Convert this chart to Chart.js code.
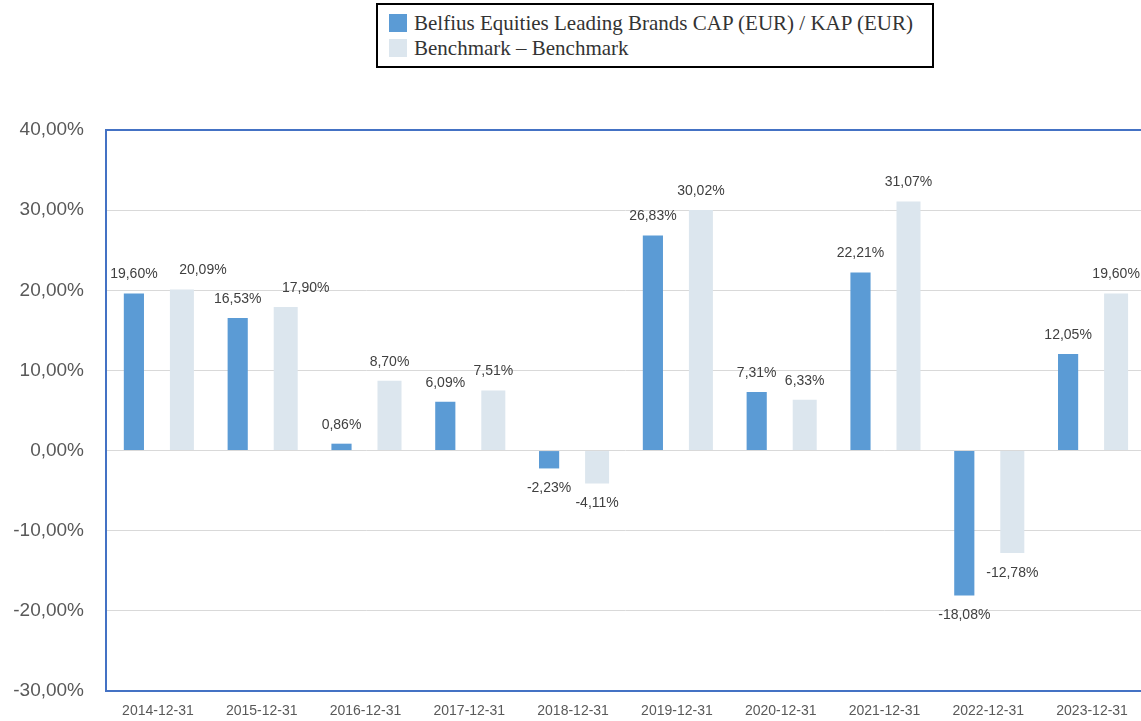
<!DOCTYPE html>
<html>
<head>
<meta charset="utf-8">
<script src="https://cdn.jsdelivr.net/npm/chart.js@4.4.0/dist/chart.umd.min.js"></script>
<style>
    body { margin: 0; background: #fff; width: 1141px; height: 721px; overflow: hidden; position: relative; }
    #wrap { position: absolute; left: 0; top: 0; width: 1146px; height: 721px; }
    #legend {
        position: absolute; left: 376px; top: 3px; width: 554px; height: 61px;
        border: 2px solid #000; background: #fff;
        font-family: "Liberation Serif", "Times New Roman", serif; font-size: 21px; color: #333;
    }
    .item { position: absolute; left: 11px; height: 24px; line-height: 24px; white-space: nowrap; }
    .item span.sw { position: absolute; left: 0; top: 3px; width: 18px; height: 18px; }
    .item span.tx { position: absolute; left: 25px; top: 0; }
</style>
</head>
<body>
<div id="legend">
    <div class="item" style="top:6px"><span class="sw" style="background:#5b9bd5"></span><span class="tx">Belfius Equities Leading Brands CAP (EUR) / KAP (EUR)</span></div>
    <div class="item" style="top:31px"><span class="sw" style="background:#dce6ee"></span><span class="tx">Benchmark – Benchmark</span></div>
</div>
<div id="wrap"><canvas id="chart" width="1146" height="721"></canvas></div>
<script>
// Data
const years = ['2014-12-31', '2015-12-31', '2016-12-31', '2017-12-31', '2018-12-31',
               '2019-12-31', '2020-12-31', '2021-12-31', '2022-12-31', '2023-12-31'];
const fundReturns = [19.60, 16.53, 0.86, 6.09, -2.23, 26.83, 7.31, 22.21, -18.08, 12.05];
const benchReturns = [20.09, 17.90, 8.70, 7.51, -4.11, 30.02, 6.33, 31.07, -12.78, 19.60];
const yTicks = [-30, -20, -10, 0, 10, 20, 30, 40];

// geser label yang bertabrakan (dataset -> index -> px)
const labelShiftX = { 1: { 0: 21, 1: 20 } };

const fmtPct = v => v.toFixed(2).replace('.', ',') + '%';

// Plugin label nilai di atas/bawah batang
const valueLabels = {
    id: 'valueLabels',
    afterDatasetsDraw(chart) {
        const ctx = chart.ctx;
        ctx.save();
        ctx.font = '14px "Liberation Sans", Arial, sans-serif';
        ctx.fillStyle = '#404040';
        ctx.textAlign = 'center';
        ctx.textBaseline = 'middle';
        chart.data.datasets.forEach((ds, di) => {
            const meta = chart.getDatasetMeta(di);
            meta.data.forEach((bar, i) => {
                const v = ds.data[i];
                const dx = (labelShiftX[di] && labelShiftX[di][i]) || 0;
                const y = v >= 0 ? bar.y - 19 : bar.y + 20;
                ctx.fillText(fmtPct(v), bar.x + dx, y);
            });
        });
        ctx.restore();
    }
};

const frameBlue = '#4472c4';

new Chart(document.getElementById('chart').getContext('2d'), {
    type: 'bar',
    data: {
        labels: years,
        datasets: [{
            label: 'Belfius Equities Leading Brands CAP (EUR) / KAP (EUR)',
            data: fundReturns,
            backgroundColor: '#5b9bd5',
            categoryPercentage: 0.925,
            barPercentage: 0.42
        }, {
            label: 'Benchmark – Benchmark',
            data: benchReturns,
            backgroundColor: '#dce6ee',
            categoryPercentage: 0.925,
            barPercentage: 0.5
        }]
    },
    options: {
        responsive: false,
        animation: false,
        layout: { padding: { top: 130, right: 2, bottom: 0, left: 0 } },
        plugins: {
            legend: { display: false },
            tooltip: { enabled: false }
        },
        scales: {
            x: {
                grid: { display: false, drawTicks: false },
                border: { color: frameBlue, width: 2 },
                ticks: {
                    color: '#595959',
                    font: { family: '"Liberation Sans", Arial, sans-serif', size: 14 },
                    padding: 12,
                    maxRotation: 0
                },
                afterFit(scale) { scale.height = 30; }
            },
            y: {
                min: -30,
                max: 40,
                afterBuildTicks(scale) { scale.ticks = yTicks.map(v => ({ value: v })); },
                grid: {
                    drawTicks: false,
                    color: c => (c.tick && (c.tick.value === 40 || c.tick.value === -30)) ? frameBlue : '#d9d9d9',
                    lineWidth: c => (c.tick && c.tick.value === 40) ? 2 : 1
                },
                border: { color: frameBlue, width: 2 },
                ticks: {
                    color: '#595959',
                    font: { family: '"Liberation Sans", Arial, sans-serif', size: 19 },
                    padding: 22,
                    callback: v => fmtPct(v)
                },
                afterFit(scale) {
                    scale.width = 106;
                    // padding label jangan ikut memotong area chart
                    scale.paddingTop = 12;
                    scale.paddingBottom = 12;
                }
            }
        }
    },
    plugins: [valueLabels]
});
</script>
</body>
</html>
